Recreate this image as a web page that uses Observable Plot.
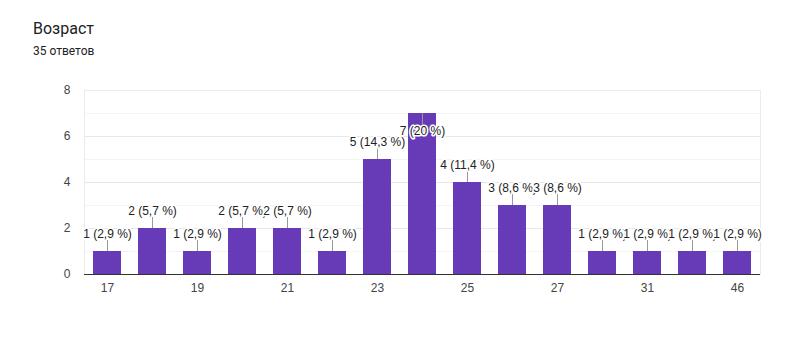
<!DOCTYPE html>
<html>
<head>
<meta charset="utf-8">
<script src="https://cdn.jsdelivr.net/npm/d3@7"></script>
<script src="https://cdn.jsdelivr.net/npm/@observablehq/plot@0.6"></script>
<style>
  html, body { margin: 0; padding: 0; background: #fff; }
  #wrap { width: 810px; height: 352px; overflow: hidden; }
  #head { position: relative; height: 60px; }
  #title { position: absolute; left: 33px; top: 19px; font-family: Roboto, "Noto Sans", sans-serif; font-size: 16px; line-height: 20px; color: #202124; }
  #sub { position: absolute; left: 33px; top: 43px; font-family: Roboto, "Noto Sans", sans-serif; font-size: 12px; line-height: 16px; color: #202124; }
  #chart svg { display: block; }
</style>
</head>
<body>
<div id="wrap">
  <div id="head">
    <div id="title">Возраст</div>
    <div id="sub">35 ответов</div>
  </div>
  <div id="chart"></div>
</div>
<script>
const ages = ["17","18","19","20","21","22","23","24","25","26","27","30","31","35","46"];
const counts = [1, 2, 1, 2, 2, 1, 5, 7, 4, 3, 3, 1, 1, 1, 1];
const xTickLabels = ["17","19","21","23","25","27","31","46"];
const yTicks = [0, 2, 4, 6, 8];
const yMajorGrid = [2, 4, 6, 8];
const yMinorGrid = [1, 3, 5, 7];

const total = d3.sum(counts);
const maxCount = d3.max(counts);
const data = ages.map((age, i) => {
  const pct = Math.round(counts[i] / total * 1000) / 10;
  return {
    age,
    count: counts[i],
    label: `${counts[i]} (${String(pct).replace(".", ",")} %)`,
    inside: counts[i] === maxCount
  };
});
const outside = data.filter(d => !d.inside);
const inside = data.filter(d => d.inside);

const chart = Plot.plot({
  width: 810,
  height: 292,
  marginTop: 30,
  marginBottom: 78,
  marginLeft: 84,
  marginRight: 50,
  style: { fontFamily: "'Liberation Sans', Arial, sans-serif", fontSize: "12px", color: "#444", background: "white", overflow: "visible" },
  x: { domain: ages, paddingInner: 0.38, paddingOuter: 0.19, label: null, tickSize: 0, tickPadding: 9, ticks: xTickLabels },
  y: { domain: [0, 8], label: null, ticks: yTicks, tickSize: 0, tickPadding: 14 },
  marks: [
    Plot.ruleY(yMinorGrid, { stroke: "#f4f4f4" }),
    Plot.ruleY(yMajorGrid, { stroke: "#e8e8e8" }),
    Plot.frame({ stroke: "#ebebeb" }),
    Plot.barY(data, { x: "age", y: "count", fill: "#673ab7" }),
    Plot.ruleY([0], { stroke: "#333" }),
    Plot.ruleX(outside, { x: "age", y1: "count", y2: "count", insetBottom: 11, stroke: "#999" }),
    Plot.ruleX(inside, { x: "age", y1: "count", y2: "count", insetTop: 12, stroke: "#999" }),
    Plot.text(outside, { x: "age", y: "count", text: "label", dy: -17, fill: "#222", stroke: "white", strokeWidth: 3, paintOrder: "stroke", fontSize: 12 }),
    Plot.text(inside, { x: "age", y: "count", text: "label", dy: 18, fill: "#222", stroke: "white", strokeWidth: 3, paintOrder: "stroke", fontSize: 12 })
  ]
});
document.getElementById("chart").appendChild(chart);
</script>
</body>
</html>
